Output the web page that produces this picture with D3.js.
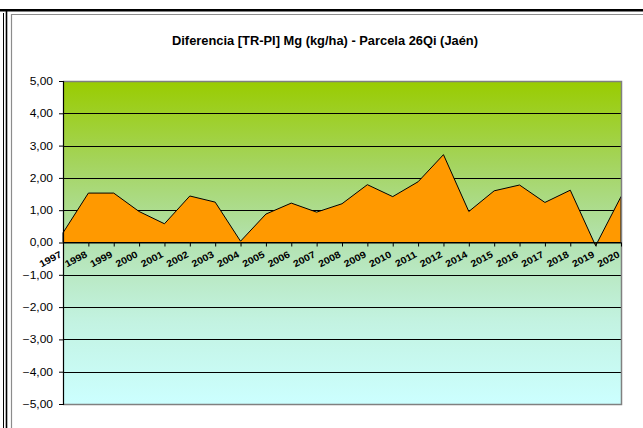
<!doctype html>
<html lang="es">
<head>
  <meta charset="utf-8">
  <title>Diferencia Mg</title>
  <style>
    * { margin: 0; padding: 0; box-sizing: border-box; }
    body { background: #fff; width: 643px; height: 428px; overflow: hidden; }
    svg { display: block; font-family: "Liberation Sans", Arial, sans-serif; }
  </style>
</head>
<body>
  <div class="chart"></div>
  <script src="https://cdn.jsdelivr.net/npm/d3@7"></script>
  <script>
    // ---------------------------------------------------------------
    //@@ data
    const title = 'Diferencia [TR-PI] Mg (kg/ha) - Parcela 26Qi (Jaén)';
    const years = ['1997', '1998', '1999', '2000', '2001', '2002', '2003', '2004',
      '2005', '2006', '2007', '2008', '2009', '2010', '2011', '2012',
      '2014', '2015', '2016', '2017', '2018', '2019', '2020'];
    const values = [0.30, 1.53, 1.53, 0.96, 0.58, 1.44, 1.25, 0.04,
      0.88, 1.22, 0.94, 1.20, 1.79, 1.42, 1.88, 2.72,
      0.96, 1.60, 1.78, 1.24, 1.62, -0.10, 1.42];
    const yTicks = [-5, -4, -3, -2, -1, 0, 1, 2, 3, 4, 5];

    const data = years.map((year, i) => ({year, value: values[i]}));

    // ---------------------------------------------------------------
    //@@ svg configuration
    const svgDim = {w: 643, h: 428};
    const plot = {l: 63, r: 621, t: 81, b: 404};

    const svg = d3.select('.chart').append('svg')
      .attr('width', svgDim.w)
      .attr('height', svgDim.h);

    //@@ outer frame
    svg.append('rect').attr('x', 0).attr('y', 9).attr('width', svgDim.w).attr('height', 2.5).attr('fill', '#000');
    svg.append('line').attr('x1', 3.5).attr('x2', 3.5).attr('y1', 13).attr('y2', svgDim.h)
      .attr('stroke', '#000').attr('stroke-width', 1);
    svg.append('line').attr('x1', 6.5).attr('x2', 6.5).attr('y1', 10).attr('y2', svgDim.h)
      .attr('stroke', '#000').attr('stroke-width', 1.6);
    svg.append('path').attr('d', `M11.5,${svgDim.h}V14.5H${svgDim.w}`)
      .attr('fill', 'none').attr('stroke', '#8c8c8c').attr('stroke-width', 1.2);

    //@@ title
    svg.append('text')
      .attr('x', 325).attr('y', 45)
      .attr('text-anchor', 'middle')
      .attr('textLength', 306).attr('lengthAdjust', 'spacingAndGlyphs')
      .style('font-size', '12px').style('font-weight', 'bold')
      .text(title);

    //@@ scales
    const scaleX = d3.scalePoint().domain(years).range([plot.l, plot.r]);
    const scaleY = d3.scaleLinear().domain([-5, 5]).range([plot.b, plot.t]);

    //@@ background gradient
    const defs = svg.append('defs');
    const grad = defs.append('linearGradient').attr('id', 'bg')
      .attr('x1', 0).attr('y1', 0).attr('x2', 0).attr('y2', 1);
    [[0, '#99cc00'], [0.25, '#a4d45c'], [0.5, '#b3e2b0'], [0.75, '#c3f3e2'], [1, '#ccffff']]
      .forEach(([o, c]) => grad.append('stop').attr('offset', o).attr('stop-color', c));

    svg.append('rect')
      .attr('x', plot.l).attr('y', plot.t)
      .attr('width', plot.r - plot.l).attr('height', plot.b - plot.t)
      .attr('fill', 'url(#bg)');

    //@@ gridlines
    svg.append('g').selectAll('line')
      .data(yTicks.filter(d => d !== 0 && d !== 5 && d !== -5))
      .join('line')
      .attr('x1', plot.l).attr('x2', plot.r)
      .attr('y1', d => Math.round(scaleY(d)) + 0.5).attr('y2', d => Math.round(scaleY(d)) + 0.5)
      .attr('stroke', '#000').attr('stroke-width', 1);

    //@@ area
    const area = d3.area()
      .x(d => scaleX(d.year))
      .y0(scaleY(0))
      .y1(d => scaleY(d.value));

    svg.append('path')
      .datum(data)
      .attr('d', area)
      .attr('fill', '#ff9900')
      .attr('stroke', '#000')
      .attr('stroke-width', 1)
      .attr('stroke-linejoin', 'miter');

    //@@ plot border (top / right / bottom)
    svg.append('path')
      .attr('d', `M${plot.l},${plot.t + 0.5}H${plot.r + 0.5}V${plot.b + 0.5}H${plot.l}`)
      .attr('fill', 'none').attr('stroke', '#808080').attr('stroke-width', 1.5);

    //@@ axis X (at zero)
    const axisX = d3.axisBottom(scaleX).tickSize(4).tickSizeOuter(0);
    const areaAxisX = svg.append('g')
      .attr('transform', `translate(0,${scaleY(0)})`)
      .call(axisX);
    areaAxisX.select('.domain').attr('stroke', '#000').attr('stroke-width', 1.2);
    areaAxisX.selectAll('.tick line').attr('stroke', '#000');
    areaAxisX.selectAll('text')
      .attr('x', 0).attr('y', 0).attr('dy', 0)
      .attr('transform', 'translate(-1,14) rotate(-28) scale(1.12,1)')
      .style('text-anchor', 'end')
      .style('font-size', '9.5px')
      .style('font-weight', 'bold')
      .style('font-family', '"Liberation Sans", Arial, sans-serif')
      .attr('fill', '#000');

    //@@ axis Y
    const fmt = d => d3.format('.2f')(d).replace('.', ',');
    const axisY = d3.axisLeft(scaleY).tickValues(yTicks).tickSize(4).tickPadding(6).tickFormat(fmt);
    const areaAxisY = svg.append('g')
      .attr('transform', `translate(${plot.l},0)`)
      .call(axisY);
    areaAxisY.select('.domain').attr('stroke', '#000').attr('stroke-width', 1.2);
    areaAxisY.selectAll('.tick line').attr('stroke', '#000');
    areaAxisY.selectAll('.tick text')
      .attr('x', 0).attr('dy', '0.34em')
      .attr('transform', 'translate(-10,0) scale(1.2,1)')
      .style('font-size', '10px')
      .style('font-family', '"Liberation Sans", Arial, sans-serif')
      .attr('fill', '#000');
  </script>
</body>
</html>
